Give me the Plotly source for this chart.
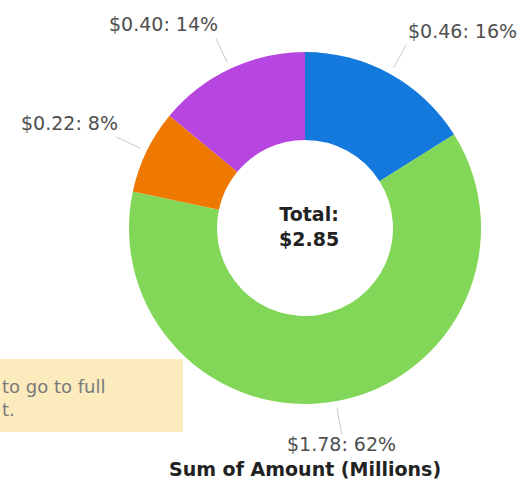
import math
import plotly.graph_objects as go

# Amounts by segment (millions of dollars), listed clockwise from 12 o'clock
segments = ["Segment A", "Segment B", "Segment C", "Segment D"]
amounts = [0.46, 1.78, 0.22, 0.40]
colors = ["#1479dd", "#82d758", "#ee7800", "#b746e0"]
total_label = 2.85

W, H = 528, 481
CX, CY, R = 305, 228, 176  # donut centre and outer radius in pixels
HOLE = 0.5

FONT = "DejaVu Sans, Arial, sans-serif"


def px_to_paper(x, y):
    return x / W, 1 - y / H


fig = go.Figure()
fig.add_trace(go.Pie(
    labels=segments,
    values=amounts,
    hole=HOLE,
    sort=False,
    direction="clockwise",
    rotation=0,
    marker=dict(colors=colors, line=dict(width=0)),
    textinfo="none",
    hoverinfo="label+value+percent",
    showlegend=False,
    domain=dict(x=[(CX - R) / W, (CX + R) / W],
                y=[1 - (CY + R) / H, 1 - (CY - R) / H]),
))

shapes = []
annotations = []

# Slice labels with radial leader lines at each slice's mid-angle
s = sum(amounts)
cum = 0.0
for v in amounts:
    frac = v / s
    mid = (cum + frac / 2) * 2 * math.pi  # clockwise from top
    cum += frac
    sx, sy = math.sin(mid), -math.cos(mid)
    x0, y0 = CX + 1.04 * R * sx, CY + 1.04 * R * sy
    x1, y1 = CX + 1.19 * R * sx, CY + 1.19 * R * sy
    px0, py0 = px_to_paper(x0, y0)
    px1, py1 = px_to_paper(x1, y1)
    shapes.append(dict(type="line", xref="paper", yref="paper",
                       x0=px0, y0=py0, x1=px1, y1=py1,
                       line=dict(color="#c8c8c8", width=1)))
    text = f"${v:.2f}: {round(frac * 100):d}%"
    if sy < 0:
        yanchor, ty = "bottom", y1 - 1
        xanchor = "left" if sx > 0 else "right"
        tx = x1 + (0 if sx > 0 else 4)
    else:
        yanchor, ty = "top", y1 - 3
        xanchor, tx = "center", x1
    tpx, tpy = px_to_paper(tx, ty)
    annotations.append(dict(x=tpx, y=tpy, xref="paper", yref="paper",
                            text=text, showarrow=False,
                            xanchor=xanchor, yanchor=yanchor,
                            font=dict(family=FONT, size=19, color="#4f4f4f")))

# Centre total
cx, cy = px_to_paper(CX + 4, CY - 2)
annotations.append(dict(x=cx, y=cy, xref="paper", yref="paper",
                        text=f"<b>Total:<br>${total_label:.2f}</b>",
                        showarrow=False, xanchor="center", yanchor="middle",
                        align="center",
                        font=dict(family=FONT, size=19, color="#222222")))

# Chart title below the donut
tx, ty = px_to_paper(CX, 469)
annotations.append(dict(x=tx, y=ty, xref="paper", yref="paper",
                        text="<b>Sum of Amount (Millions)</b>",
                        showarrow=False, xanchor="center", yanchor="middle",
                        font=dict(family=FONT, size=19, color="#222222")))

# Tooltip hint box at the left edge
bx0, by0 = px_to_paper(-5, 432)
bx1, by1 = px_to_paper(183, 359)
shapes.append(dict(type="rect", xref="paper", yref="paper",
                   x0=bx0, y0=by0, x1=bx1, y1=by1,
                   fillcolor="#fcebbd", line=dict(width=0), layer="below"))
for line_text, ly in [("to go to full", 386), ("t.", 409)]:
    ax, ay = px_to_paper(0, ly)
    annotations.append(dict(x=ax, y=ay, xref="paper", yref="paper",
                            text=line_text, showarrow=False,
                            xanchor="left", yanchor="middle",
                            font=dict(family=FONT, size=18, color="#7a7a7a")))

fig.update_layout(
    width=W, height=H,
    margin=dict(l=0, r=0, t=0, b=0),
    paper_bgcolor="white",
    plot_bgcolor="white",
    shapes=shapes,
    annotations=annotations,
)

fig.write_html("out.html")
